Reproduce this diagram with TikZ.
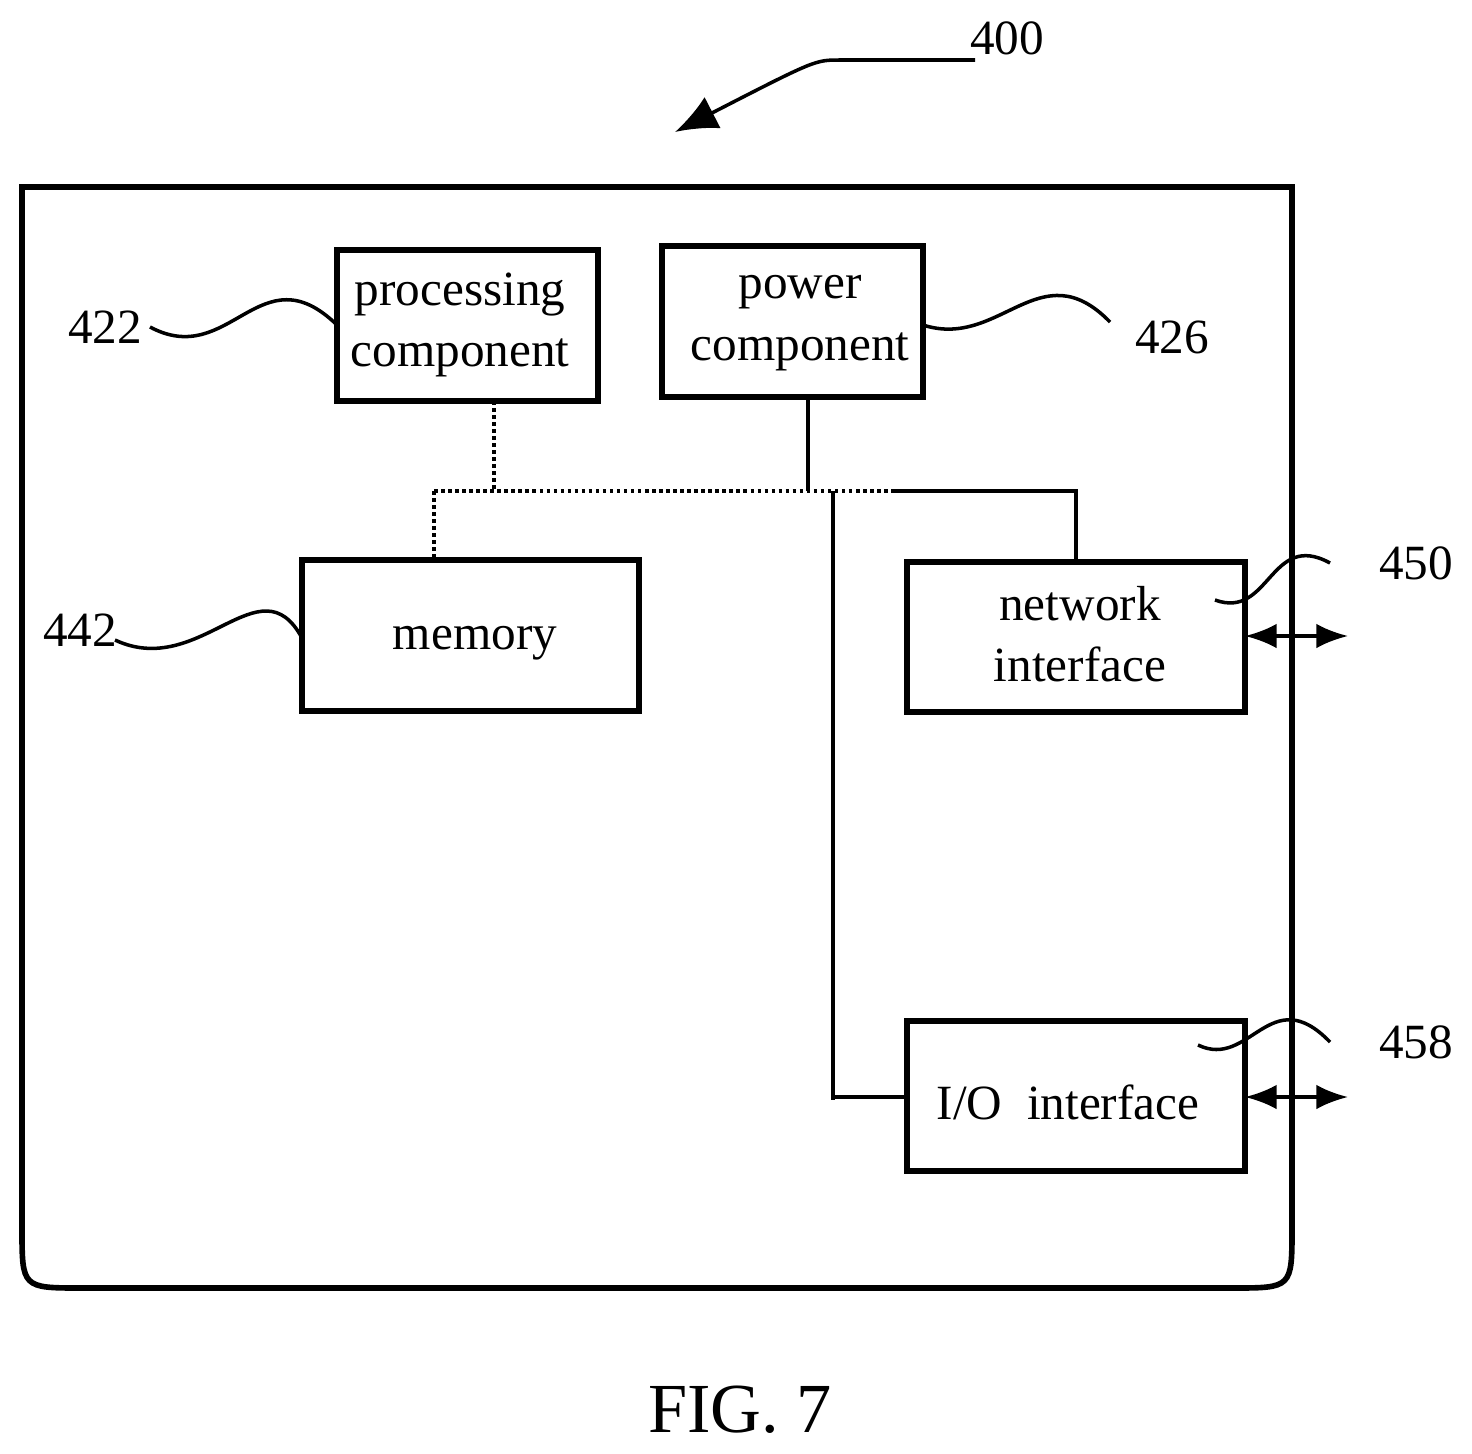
\documentclass[tikz,border=0pt]{standalone}
\usepackage{fontspec}
\setmainfont{Liberation Serif}
\usetikzlibrary{arrows.meta, positioning}
\begin{document}
\begin{tikzpicture}[
    x=0.01cm, y=-0.01cm,
    box/.style={line width=1.6pt},
    tag/.style={font=\fontsize{14pt}{17.5pt}\selectfont, inner sep=0pt},
    bus/.style={line width=1pt},
    dots/.style={line width=1pt, densely dotted},
    lead/.style={line width=1pt},
    io/.style={{Latex[length=9pt,width=7pt]}-{Latex[length=9pt,width=7pt]}, line width=1pt}
]
\useasboundingbox (0,0) rectangle (1472,1454);
% device outline
\draw[box] (22,187) -- (1292,187) -- (1292,1228) .. controls (1292,1288) .. (1232,1288)
    -- (82,1288) .. controls (22,1288) .. (22,1228) -- cycle;
% components
\draw[box] (337,250) rectangle (598,401);
\node[tag, align=center] (proc) at (460,325) {processing\\component};
\coordinate (procS) at (494,401);
\draw[box] (662,246) rectangle (923,397);
\node[tag, align=center] (pow) at (800,323) {power\\component};
\coordinate (powS) at (808,397);
\draw[box] (302,560) rectangle (639,711);
\node[tag] (mem) at (475,643) {memory};
\coordinate (memN) at (434,560);
\draw[box] (907,562) rectangle (1245,712);
\node[tag, align=center] (net) at (1080,634) {network\\interface};
\coordinate (netN) at (1076,562);
\draw[box] (907,1021) rectangle (1245,1171);
\node[tag] (io) at (1068,1102) {I/O\ \ interface};
\coordinate (ioW) at (907,1097);
% bus
\coordinate (b1) at (434,491);
\coordinate (b2) at (895,491);
\draw[dots] (procS) -- (494,491);
\draw[dots] (b1) -- (b2);
\draw[dots] (b1) -- (memN);
\draw[bus] (powS) -- (808,491);
\draw[bus] (b2) -- (1076,491) -- (netN);
\draw[bus] (833,491) -- (833,1100);
\draw[bus] (833,1097) -- (ioW);
% external links
\coordinate (netE) at (1348,636);
\coordinate (ioE) at (1348,1097);
\draw[io] (1245,636) -- (netE);
\draw[io] (1245,1097) -- (ioE);
% reference numerals
\node[tag] (n422) at (105,327) {422};
\draw[lead] (150,327) .. controls (230,370) and (260,250) .. (337,325);
\node[tag] (n426) at (1172,337) {426};
\draw[lead] (923,325) .. controls (1000,350) and (1040,250) .. (1110,322);
\node[tag] (n442) at (80,630) {442};
\draw[lead] (115,640) .. controls (200,680) and (260,560) .. (302,638);
\node[tag] (n450) at (1416,563) {450};
\draw[lead] (1215,600) .. controls (1270,620) and (1270,530) .. (1330,563);
\node[tag] (n458) at (1416,1042) {458};
\draw[lead] (1198,1045) .. controls (1250,1070) and (1270,980) .. (1330,1042);
\node[tag] (n400) at (1007,38) {400};
\draw[lead, -{Latex[length=12pt,width=10pt]}] (975,60) -- (840,60) .. controls (815,60) .. (675,132);
% caption
\node[font=\fontsize{20pt}{24pt}\selectfont] (fig) at (740,1410) {FIG. 7};
\end{tikzpicture}
\end{document}
